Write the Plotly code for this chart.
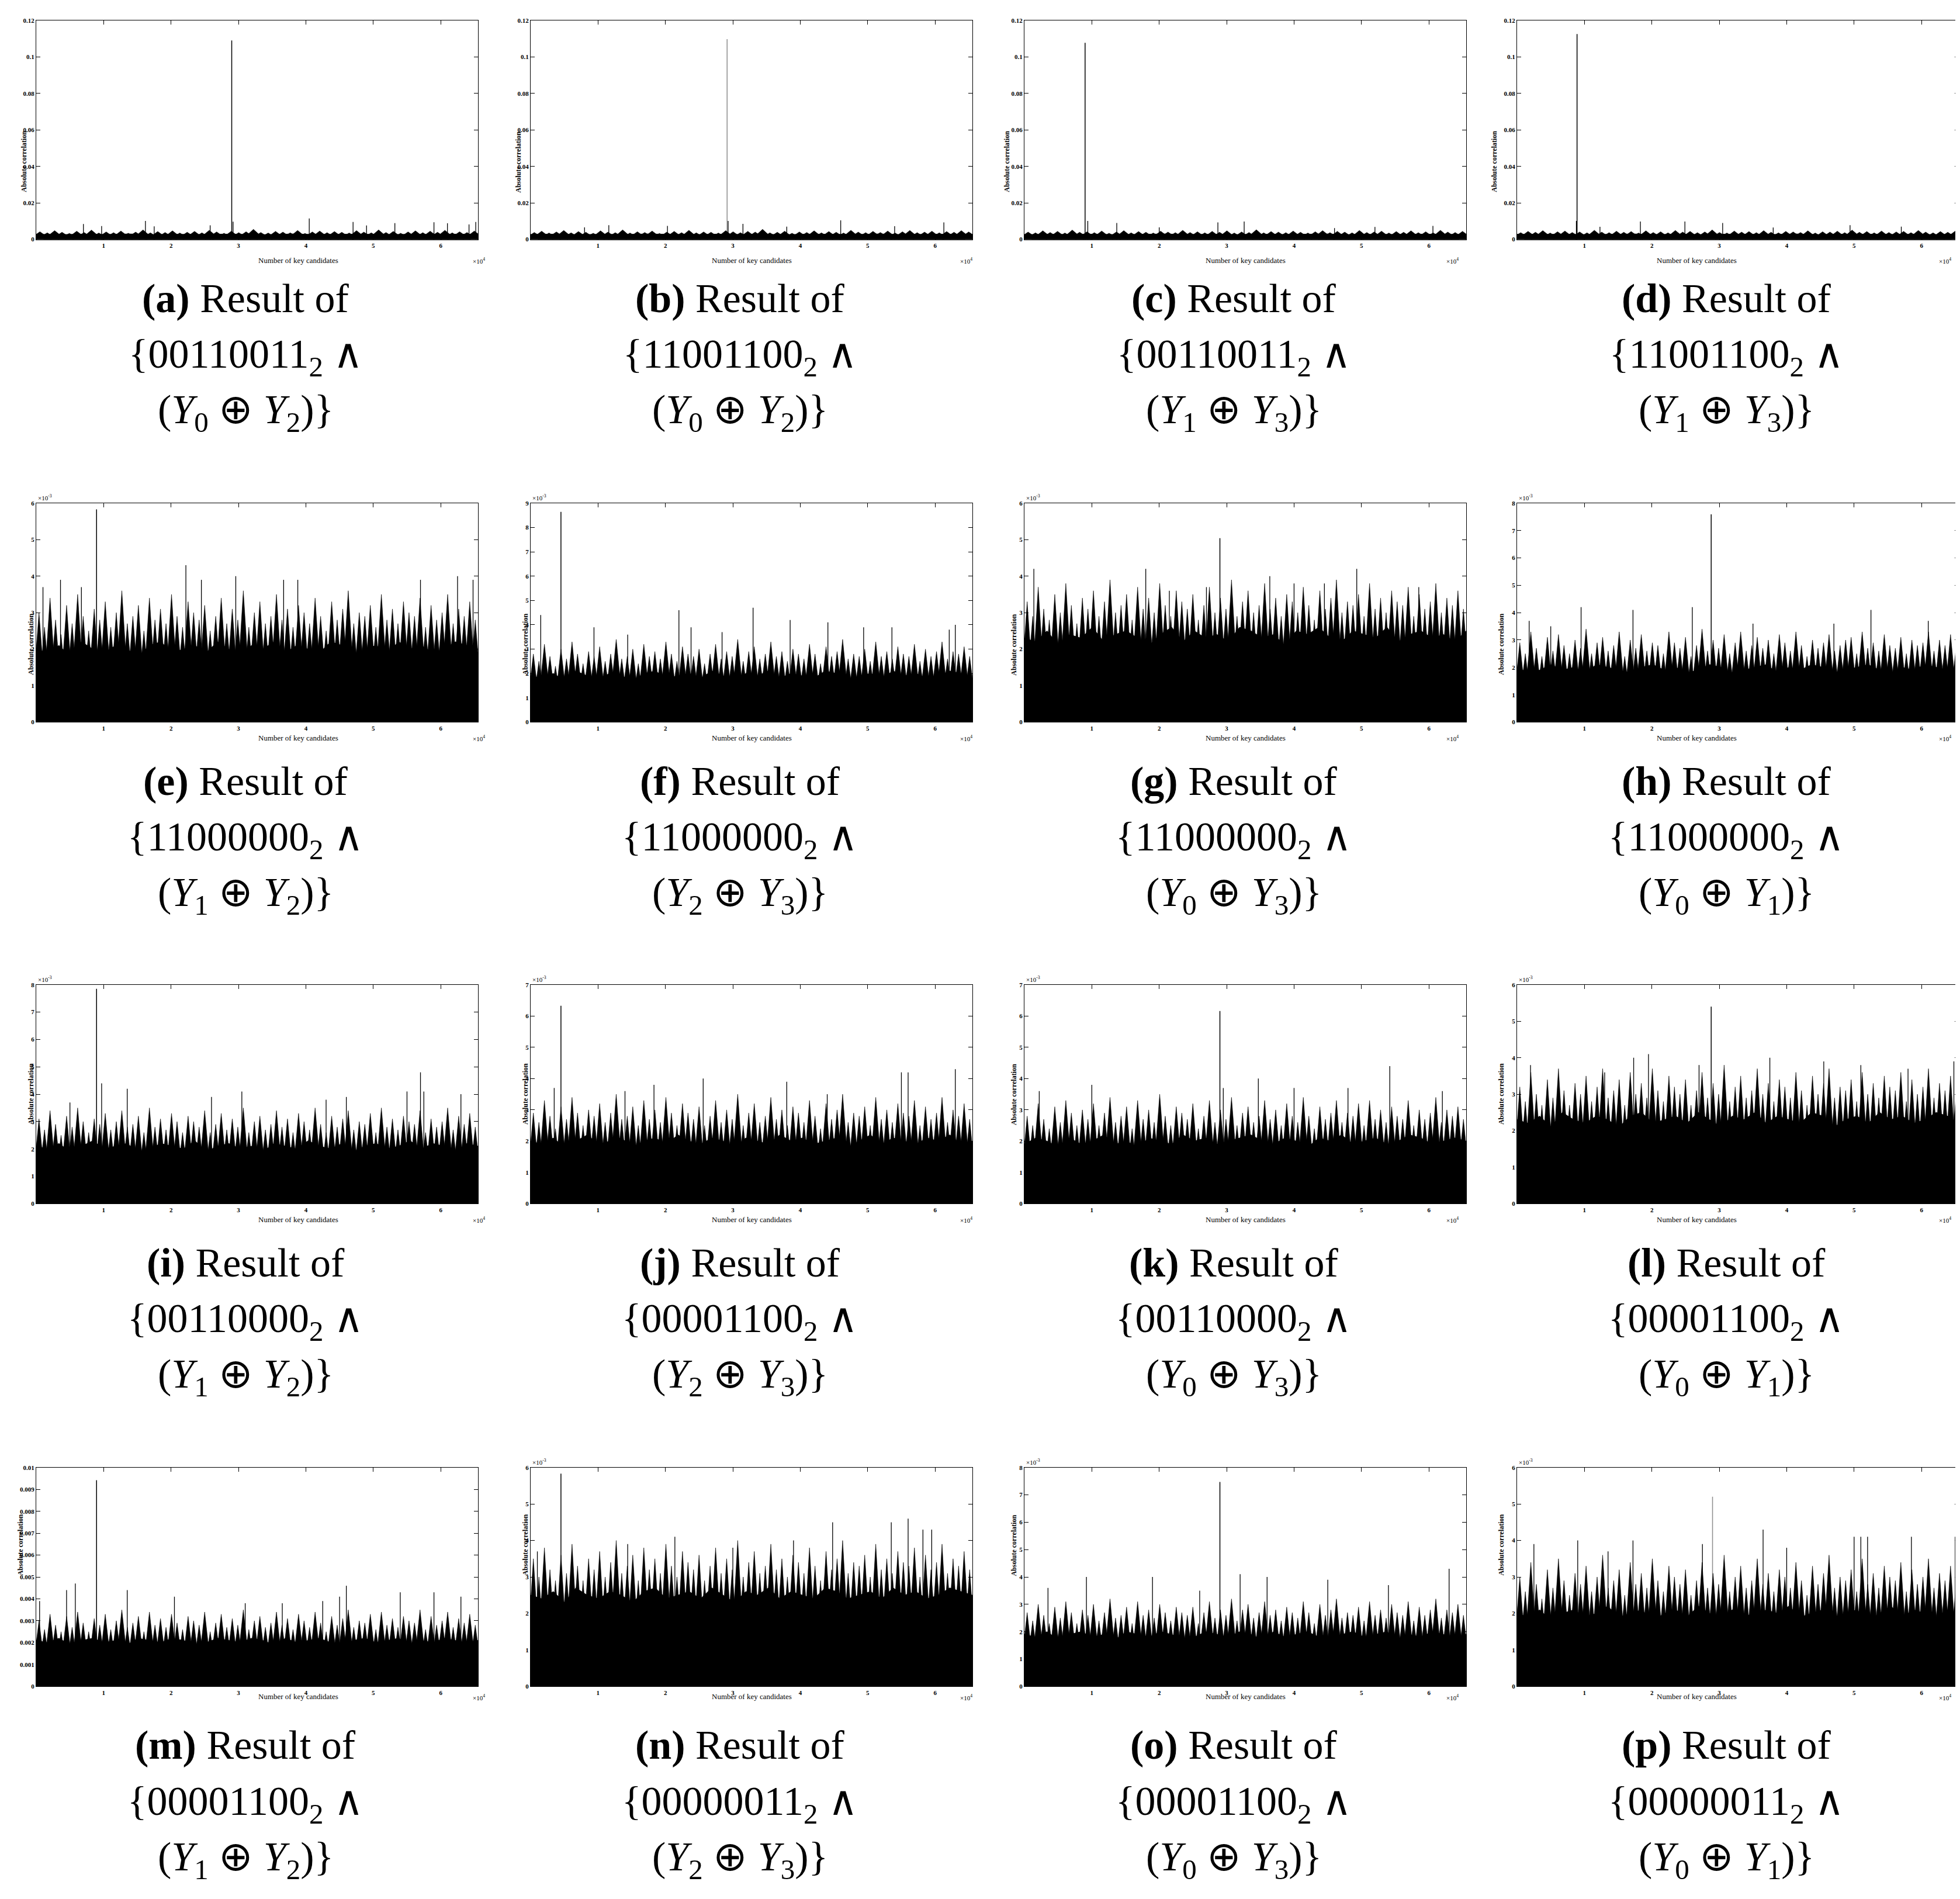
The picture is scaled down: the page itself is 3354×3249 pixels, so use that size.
import numpy as np
import plotly.graph_objects as go

W, H = 3354, 3249
N_KEYS = 65536

letters = list("abcdefghijklmnop")

masks = ["00110011", "11001100", "00110011", "11001100",
         "11000000", "11000000", "11000000", "11000000",
         "00110000", "00001100", "00110000", "00001100",
         "00001100", "00000011", "00001100", "00000011"]
pairs = [(0, 2), (0, 2), (1, 3), (1, 3),
         (1, 2), (2, 3), (0, 3), (0, 1),
         (1, 2), (2, 3), (0, 3), (0, 1),
         (1, 2), (2, 3), (0, 3), (0, 1)]

# y-axis top, in units of 1e-3
y_top = [120, 120, 120, 120, 6, 9, 6, 8, 8, 7, 7, 6, 10, 6, 8, 6]

# correct key spike (key index, value in 1e-3)
peak_key = [29000, 29150, 9000, 8900, 8950, 4500, 29000, 28800,
            8950, 4500, 29000, 28800, 8950, 4500, 29000, 29000]
peak_val = [109.0, 109.7, 107.7, 112.5, 5.83, 8.64, 5.04, 7.59,
            7.85, 6.33, 6.16, 5.40, 9.42, 5.83, 7.47, 5.20]

# solid noise floor (1e-4 units), fringe spikes (1e-4), taller outliers (key, 1e-4)
body = {
    "a": [28, 26, 29, 27, 30, 26, 28, 27, 29, 28, 26, 30, 27, 28, 29, 26, 28, 27, 29, 28],
    "b": [27, 29, 26, 28, 27, 30, 28, 26, 29, 27, 28, 26, 29, 28, 27, 30, 26, 28, 29, 27],
    "c": [26, 28, 27, 29, 26, 28, 30, 27, 28, 26, 29, 27, 28, 30, 26, 28, 27, 29, 28, 27],
    "d": [28, 27, 29, 26, 28, 30, 27, 28, 26, 29, 28, 27, 30, 26, 28, 29, 27, 28, 26, 29],
    "e": [20, 19, 21, 18, 22, 20, 19, 21, 20, 18, 21, 22, 19, 20, 21, 19, 22, 20, 18, 21,
          20, 22, 19, 21, 20, 19, 22, 21, 18, 20, 21, 19, 22, 20, 21, 19, 20, 22, 21, 19],
    "f": [19, 18, 20, 17, 21, 19, 18, 20, 19, 17, 20, 21, 18, 19, 20, 18, 21, 19, 17, 20,
          19, 21, 18, 20, 19, 18, 21, 20, 17, 19, 20, 18, 21, 19, 20, 18, 19, 21, 20, 18],
    "g": [23, 22, 25, 21, 24, 23, 26, 22, 24, 25, 23, 21, 24, 26, 22, 25, 23, 24, 22, 26,
          25, 23, 24, 21, 25, 24, 26, 23, 22, 25, 24, 23, 26, 22, 24, 25, 23, 24, 22, 25],
    "h": [20, 18, 19, 21, 19, 20, 18, 21, 20, 19, 18, 20, 21, 19, 20, 18, 19, 21, 20, 18,
          19, 20, 21, 18, 20, 19, 21, 20, 18, 19, 20, 21, 19, 18, 20, 19, 21, 20, 19, 20],
    "i": [21, 20, 22, 19, 21, 23, 20, 21, 22, 19, 20, 22, 21, 20, 23, 19, 21, 22, 20, 21,
          19, 22, 21, 20, 23, 21, 20, 22, 19, 21, 22, 20, 21, 23, 20, 22, 21, 19, 22, 21],
    "j": [20, 19, 21, 18, 20, 22, 19, 20, 21, 18, 20, 21, 19, 22, 20, 19, 21, 20, 18, 21,
          20, 19, 22, 20, 21, 19, 20, 21, 18, 20, 22, 19, 21, 20, 19, 21, 20, 22, 19, 20],
    "k": [19, 21, 20, 18, 21, 19, 20, 22, 19, 20, 18, 21, 20, 19, 22, 20, 21, 19, 20, 21,
          22, 20, 19, 21, 20, 18, 21, 20, 22, 19, 20, 21, 19, 20, 22, 21, 19, 20, 21, 20],
    "l": [23, 22, 24, 21, 25, 23, 22, 24, 23, 21, 24, 25, 22, 23, 24, 22, 25, 23, 21, 24,
          23, 25, 22, 24, 23, 22, 25, 24, 21, 23, 24, 22, 25, 23, 24, 22, 23, 25, 24, 22],
    "m": [21, 20, 22, 19, 21, 22, 20, 21, 19, 22, 21, 20, 22, 21, 19, 20, 22, 21, 20, 22,
          21, 19, 22, 20, 21, 22, 20, 19, 21, 22, 20, 21, 22, 19, 21, 20, 22, 21, 20, 21],
    "n": [25, 24, 26, 23, 27, 25, 24, 26, 25, 23, 26, 27, 24, 25, 26, 24, 27, 25, 23, 26,
          25, 27, 24, 26, 25, 24, 27, 26, 24, 25, 26, 24, 27, 25, 26, 24, 25, 27, 26, 25],
    "o": [19, 18, 20, 17, 19, 20, 18, 19, 17, 20, 19, 18, 20, 19, 17, 18, 20, 19, 18, 20,
          19, 17, 20, 18, 19, 20, 18, 17, 19, 20, 18, 19, 20, 17, 19, 18, 20, 19, 18, 19],
    "p": [20, 19, 21, 18, 20, 21, 19, 20, 22, 19, 20, 21, 18, 20, 21, 19, 22, 20, 19, 21,
          20, 19, 21, 20, 22, 19, 20, 21, 19, 20, 21, 18, 20, 22, 19, 21, 20, 19, 21, 20],
}

fringe = {
    "a": [42, 36, 48, 39, 33, 45, 38, 51, 35, 41, 37, 46, 34, 40, 52, 36, 43, 38, 47, 35,
          39, 44, 36, 50, 41, 34, 45, 37, 42, 55, 38, 35, 44, 40, 36, 49, 33, 41, 46, 37,
          43, 39, 35, 48, 40, 36, 52, 38, 44, 34, 41, 47, 37, 45, 39, 50, 36, 42, 38, 46],
    "b": [38, 45, 35, 41, 49, 36, 43, 39, 34, 47, 40, 37, 52, 35, 42, 38, 46, 33, 40, 44,
          37, 50, 36, 41, 39, 35, 48, 42, 37, 44, 40, 55, 36, 39, 45, 34, 41, 38, 47, 36,
          43, 39, 35, 50, 40, 37, 44, 38, 46, 35, 42, 49, 37, 40, 45, 36, 43, 39, 48, 41],
    "c": [40, 36, 47, 38, 44, 35, 51, 39, 42, 37, 46, 34, 41, 48, 36, 43, 39, 35, 45, 40,
          37, 50, 38, 42, 36, 44, 39, 47, 35, 41, 38, 53, 36, 43, 40, 37, 46, 39, 35, 42,
          48, 37, 44, 40, 36, 49, 38, 41, 45, 35, 43, 39, 47, 37, 42, 36, 50, 40, 38, 44],
    "d": [37, 44, 39, 48, 35, 42, 46, 38, 41, 36, 50, 40, 37, 45, 39, 43, 35, 47, 38, 42,
          36, 49, 40, 44, 37, 41, 52, 38, 35, 46, 40, 43, 37, 48, 39, 36, 44, 41, 38, 47,
          35, 42, 40, 45, 37, 51, 39, 43, 36, 46, 38, 41, 44, 37, 49, 40, 36, 43, 39, 45],
    "e": [30, 26, 34, 28, 24, 32, 27, 35, 29, 25, 31, 28, 33, 26, 30, 36, 27, 29, 32, 25,
          34, 28, 31, 27, 35, 29, 26, 33, 30, 28, 32, 25, 29, 34, 27, 31, 28, 36, 26, 30,
          33, 27, 29, 35, 28, 31, 26, 32, 30, 27, 34, 29, 25, 33, 28, 31, 36, 27, 30, 29,
          32, 26, 35, 28, 31, 27, 33, 30, 29, 34, 26, 32, 28, 30, 35, 27, 31, 29, 33, 28],
    "f": [28, 25, 32, 27, 23, 30, 26, 33, 28, 24, 29, 27, 31, 25, 28, 34, 26, 27, 30, 24,
          32, 27, 29, 26, 33, 28, 25, 31, 28, 27, 30, 24, 28, 32, 26, 29, 27, 34, 25, 29,
          31, 26, 28, 33, 27, 29, 25, 30, 28, 26, 32, 28, 24, 31, 27, 29, 34, 26, 28, 27,
          30, 25, 33, 27, 29, 26, 31, 28, 27, 32, 25, 30, 27, 29, 33, 26, 29, 28, 31, 27],
    "g": [33, 29, 37, 31, 28, 35, 30, 38, 32, 27, 34, 31, 36, 29, 33, 39, 30, 32, 35, 28,
          37, 31, 34, 30, 38, 32, 29, 36, 33, 31, 35, 28, 32, 37, 30, 34, 31, 39, 29, 33,
          36, 30, 32, 38, 31, 34, 29, 35, 33, 30, 37, 32, 28, 36, 31, 34, 39, 30, 33, 32,
          35, 29, 38, 31, 34, 30, 36, 33, 32, 37, 29, 35, 31, 33, 38, 30, 34, 32, 36, 31],
    "h": [29, 25, 33, 27, 24, 31, 26, 32, 28, 25, 30, 27, 34, 25, 29, 31, 26, 28, 33, 24,
          30, 27, 32, 26, 29, 28, 25, 33, 29, 27, 31, 24, 28, 34, 26, 30, 27, 32, 25, 29,
          33, 26, 28, 31, 27, 30, 25, 32, 29, 26, 33, 28, 24, 30, 27, 29, 32, 26, 28, 30,
          31, 25, 33, 27, 29, 26, 32, 28, 27, 31, 25, 30, 28, 29, 33, 26, 30, 28, 32, 27],
    "i": [31, 27, 34, 29, 25, 32, 28, 35, 30, 26, 31, 29, 33, 27, 30, 34, 28, 29, 32, 26,
          35, 28, 31, 27, 33, 30, 26, 32, 30, 28, 34, 26, 29, 33, 27, 31, 28, 35, 26, 30,
          32, 27, 29, 34, 28, 31, 26, 33, 30, 27, 35, 29, 26, 32, 28, 31, 34, 27, 30, 29,
          33, 26, 35, 28, 31, 27, 32, 30, 29, 34, 26, 31, 28, 30, 35, 27, 32, 29, 33, 28],
    "j": [29, 26, 33, 28, 24, 31, 27, 34, 29, 25, 30, 28, 32, 26, 29, 35, 27, 28, 31, 25,
          33, 27, 30, 26, 34, 29, 25, 32, 29, 27, 31, 25, 28, 33, 26, 30, 27, 35, 25, 29,
          32, 26, 28, 34, 27, 30, 25, 31, 29, 26, 33, 28, 24, 32, 27, 30, 35, 26, 29, 28,
          31, 25, 34, 27, 30, 26, 32, 29, 28, 33, 25, 31, 27, 29, 34, 26, 30, 28, 32, 27],
    "k": [28, 25, 32, 27, 24, 31, 26, 33, 29, 25, 30, 27, 32, 25, 29, 34, 26, 28, 31, 24,
          33, 27, 30, 26, 35, 28, 25, 31, 29, 27, 32, 24, 28, 33, 26, 30, 27, 34, 25, 29,
          31, 26, 28, 33, 27, 30, 25, 32, 28, 26, 34, 28, 24, 31, 27, 29, 33, 26, 29, 28,
          32, 25, 33, 27, 30, 26, 31, 28, 27, 33, 25, 30, 27, 29, 34, 26, 30, 28, 31, 27],
    "l": [32, 28, 36, 30, 27, 34, 29, 37, 31, 27, 33, 30, 35, 28, 32, 37, 29, 31, 34, 27,
          36, 30, 33, 29, 37, 31, 28, 35, 32, 30, 34, 27, 31, 36, 29, 33, 30, 38, 28, 32,
          35, 29, 31, 37, 30, 33, 28, 34, 32, 29, 36, 31, 27, 35, 30, 33, 37, 29, 32, 31,
          34, 28, 36, 30, 33, 29, 35, 32, 31, 36, 28, 34, 30, 32, 37, 29, 33, 31, 35, 30],
    "m": [30, 26, 33, 28, 25, 32, 27, 34, 29, 25, 31, 28, 33, 26, 30, 35, 27, 29, 32, 25,
          34, 28, 31, 27, 33, 29, 26, 32, 30, 28, 34, 25, 29, 33, 27, 31, 28, 35, 26, 30,
          32, 27, 29, 34, 28, 31, 26, 33, 30, 27, 34, 29, 25, 32, 28, 31, 35, 27, 30, 29,
          33, 26, 34, 28, 31, 27, 32, 30, 29, 35, 26, 32, 28, 30, 34, 27, 31, 29, 33, 28],
    "n": [35, 30, 38, 32, 29, 36, 31, 39, 33, 29, 35, 32, 37, 30, 34, 40, 31, 33, 36, 29,
          38, 32, 35, 31, 39, 33, 30, 37, 34, 32, 36, 29, 33, 38, 31, 35, 32, 40, 30, 34,
          37, 31, 33, 39, 32, 35, 30, 36, 34, 31, 38, 33, 29, 37, 32, 35, 40, 31, 34, 33,
          36, 30, 39, 32, 35, 31, 37, 34, 33, 38, 30, 36, 32, 34, 39, 31, 35, 33, 37, 32],
    "o": [27, 24, 30, 26, 23, 29, 25, 31, 27, 23, 28, 26, 30, 24, 27, 32, 25, 26, 29, 23,
          31, 26, 28, 25, 30, 27, 24, 29, 27, 26, 29, 23, 27, 31, 25, 28, 26, 32, 24, 28,
          30, 25, 27, 31, 26, 28, 24, 29, 27, 25, 31, 27, 23, 30, 26, 28, 32, 25, 27, 26,
          29, 24, 31, 26, 28, 25, 30, 27, 26, 31, 24, 29, 26, 28, 32, 25, 28, 27, 30, 26],
    "p": [30, 26, 34, 28, 24, 32, 27, 35, 29, 25, 31, 28, 33, 26, 30, 36, 27, 29, 32, 25,
          34, 28, 31, 27, 35, 29, 26, 33, 30, 28, 32, 25, 29, 34, 27, 31, 28, 36, 26, 30,
          33, 27, 29, 35, 28, 31, 26, 32, 30, 27, 34, 29, 25, 33, 28, 31, 36, 27, 30, 29,
          32, 26, 35, 28, 31, 27, 33, 30, 29, 34, 26, 32, 28, 30, 35, 27, 31, 29, 33, 28],
}

tall = {
    "a": [(7000, 84), (9700, 73), (16200, 101), (17500, 71), (25800, 77), (29200, 97),
          (40500, 115), (47000, 95), (49000, 76), (53200, 89), (59000, 94), (61000, 88),
          (64200, 82), (65200, 95)],
    "b": [(8000, 66), (11600, 78), (20300, 74), (29300, 101), (31500, 85), (38000, 70),
          (46000, 104), (54000, 72), (61300, 93)],
    "c": [(9400, 101), (13700, 90), (20000, 66), (28700, 93), (32600, 98), (46000, 62),
          (52000, 68), (60600, 74)],
    "d": [(8800, 101), (12300, 69), (18300, 98), (24900, 98), (30500, 90), (38000, 65),
          (49400, 78), (57000, 70)],
    "e": [(1000, 37), (3600, 39), (6700, 37), (22200, 43), (24500, 39), (29600, 40),
          (36700, 39), (38800, 39), (57000, 39), (62500, 40), (64800, 39)],
    "f": [(1500, 44), (9400, 39), (14400, 36), (22000, 46), (23800, 39), (28400, 37),
          (33000, 47), (38500, 42), (44100, 41), (49400, 39), (53600, 39), (62100, 38),
          (63000, 40)],
    "g": [(1400, 42), (18000, 42), (21500, 36), (27000, 37), (36400, 40), (40000, 38),
          (44500, 38), (49300, 42), (58500, 37)],
    "h": [(1800, 37), (5000, 35), (9500, 42), (17200, 41), (26000, 42), (35000, 36),
          (47000, 36), (52500, 41), (61000, 37)],
    "i": [(5000, 37), (9700, 44), (13500, 42), (26000, 39), (30500, 41), (43000, 38),
          (46000, 39), (55000, 41), (57000, 48), (57500, 41), (63000, 40)],
    "j": [(3500, 37), (14000, 36), (18300, 38), (25600, 40), (38000, 39), (44000, 35),
          (55000, 42), (56000, 42), (63000, 43)],
    "k": [(2200, 36), (10000, 38), (29500, 37), (34700, 40), (40000, 37), (48000, 37),
          (54200, 44), (62000, 36)],
    "l": [(2000, 38), (13000, 36), (17300, 40), (19500, 41), (27000, 38), (37500, 40),
          (45500, 39), (51000, 38), (58000, 37), (64800, 39)],
    "m": [(500, 39), (4500, 44), (5800, 47), (13500, 44), (20500, 41), (31000, 38),
          (36500, 38), (42500, 39), (45000, 41), (46000, 46), (54000, 43), (59000, 43),
          (63000, 41)],
    "n": [(1000, 37), (14400, 39), (21400, 41), (30000, 38), (39000, 40), (44800, 45),
          (53500, 45), (56000, 46), (58200, 43), (59500, 43)],
    "o": [(3500, 36), (9200, 40), (19000, 40), (26000, 35), (32000, 41), (36000, 40),
          (45000, 39), (54000, 37), (63000, 43)],
    "p": [(2500, 39), (9000, 40), (13500, 37), (17200, 40), (27500, 39), (36500, 43),
          (40000, 38), (50000, 41), (51000, 41), (52000, 41), (58500, 41), (65000, 41)],
}

# panel placement in pixels
COL_LEFT = [54, 900, 1745, 2588]
ROW_TOP = [21, 850, 1677, 2506]
PW, PH = 756, 376

SERIF = "Liberation Serif"

fig = go.Figure()
annotations = []


def seg(xs, ys):
    sx, sy = [], []
    for x, y in zip(xs, ys):
        sx += [x, x, None]
        sy += [0, y, None]
    return sx, sy


def needles(xs, ys, half):
    # narrow filled wedges standing on the axis, one per fringe spike
    sx, sy = [], []
    for x, y in zip(xs, ys):
        sx += [x - half, x, x + half, x - half, None]
        sy += [0, y, 0, 0, None]
    return sx, sy


for i, L in enumerate(letters):
    r, c = divmod(i, 4)
    n = i + 1
    sfx = "" if n == 1 else str(n)
    xref, yref = "x" + sfx, "y" + sfx

    left = COL_LEFT[c]
    top = ROW_TOP[r]
    bot = top + PH

    # correct key (drawn first so the noise mass covers its foot)
    pc = "#8c8c8c" if L in ("b", "p") else "black"
    fig.add_trace(go.Scatter(x=[peak_key[i], peak_key[i]], y=[0, peak_val[i]], mode="lines",
                             line=dict(color=pc, width=1.5),
                             xaxis=xref, yaxis=yref, hoverinfo="skip", showlegend=False))

    # solid floor
    b = np.array(body[L]) / 10
    bx = np.linspace(0, N_KEYS, len(b))
    fig.add_trace(go.Scatter(x=bx, y=b, mode="lines", fill="tozeroy",
                             fillcolor="black", line=dict(color="black", width=1),
                             xaxis=xref, yaxis=yref, hoverinfo="skip", showlegend=False))
    # fringe spikes as thin wedges
    f = np.array(fringe[L]) / 10
    step = N_KEYS / len(f)
    fx = (np.arange(len(f)) + 0.5) * step
    sx, sy = needles(fx, f, 1.5 * step)
    fig.add_trace(go.Scatter(x=sx, y=sy, mode="lines", fill="toself", fillcolor="black",
                             line=dict(color="black", width=0.6),
                             xaxis=xref, yaxis=yref, hoverinfo="skip", showlegend=False))
    # outliers
    tx = [k for k, v in tall[L]]
    ty = [v / 10 for k, v in tall[L]]
    sx, sy = seg(tx, ty)
    fig.add_trace(go.Scatter(x=sx, y=sy, mode="lines", line=dict(color="black", width=1.3),
                             xaxis=xref, yaxis=yref, hoverinfo="skip", showlegend=False))

    # y ticks
    yt = y_top[i]
    if yt == 120:
        tv = list(range(0, 121, 20))
        tt = ["0"] + ["%g" % (v / 1000) for v in tv[1:]]
        title_gap = 30
    elif yt == 10:
        tv = list(range(0, 11))
        tt = ["0"] + ["%g" % (v / 1000) for v in tv[1:]]
        title_gap = 36
    else:
        tv = list(range(0, yt + 1))
        tt = [str(v) for v in tv]
        title_gap = 18
        annotations.append(dict(text="\u00d710<sup>-3</sup>", xref="paper", yref="paper",
                                x=(left + 1) / W, y=1 - (top - 1) / H,
                                xanchor="left", yanchor="bottom", showarrow=False,
                                font=dict(family=SERIF, size=11, color="black")))

    fig.layout["xaxis" + sfx] = dict(
        domain=[left / W, (left + PW) / W], anchor=yref, range=[0, N_KEYS],
        tickvals=[10000, 20000, 30000, 40000, 50000, 60000],
        ticktext=["1", "2", "3", "4", "5", "6"],
        ticks="inside", ticklen=7, tickcolor="black", showline=True, linecolor="black",
        linewidth=1, mirror="ticks", showgrid=False, zeroline=False,
        tickfont=dict(family=SERIF, size=11, color="black", weight="bold"))
    fig.layout["yaxis" + sfx] = dict(
        domain=[1 - bot / H, 1 - top / H], anchor=xref, range=[0, yt],
        tickvals=tv, ticktext=tt,
        ticks="inside", ticklen=7, tickcolor="black", showline=True, linecolor="black",
        linewidth=1, mirror="ticks", showgrid=False, zeroline=False,
        tickfont=dict(family=SERIF, size=11, color="black", weight="bold"))

    # axis titles
    annotations.append(dict(text="<b>Absolute correlation</b>", xref="paper", yref="paper",
                            x=(left - title_gap) / W, y=1 - (top + PH / 2) / H, textangle=-90,
                            showarrow=False, font=dict(family=SERIF, size=12, color="black")))
    annotations.append(dict(text="Number of key candidates", xref="paper", yref="paper",
                            x=(left + PW / 2) / W, y=1 - (bot + 27) / H,
                            showarrow=False, font=dict(family=SERIF, size=13, color="black")))
    annotations.append(dict(text="\u00d710<sup>4</sup>", xref="paper", yref="paper",
                            x=(left + PW - 11) / W, y=1 - (bot + 28) / H,
                            showarrow=False, font=dict(family=SERIF, size=11, color="black")))

    # caption
    y0i, y1i = pairs[i]
    cx = (left + PW / 2 - 20) / W
    lines = ["<b>(%s)</b> Result of" % L,
             "{%s<sub>2</sub> \u2227" % masks[i],
             "(<i>Y</i><sub>%d</sub> \u2295 <i>Y</i><sub>%d</sub>)}" % (y0i, y1i)]
    for txt, off in zip(lines, [101, 202, 298]):
        annotations.append(dict(text=txt, xref="paper", yref="paper",
                                x=cx, y=1 - (bot + off) / H, xanchor="center", yanchor="middle",
                                showarrow=False, font=dict(family=SERIF, size=70, color="black")))

fig.update_layout(width=W, height=H, margin=dict(l=0, r=0, t=0, b=0),
                  paper_bgcolor="white", plot_bgcolor="white",
                  showlegend=False, annotations=annotations)

fig.write_html("out.html")
